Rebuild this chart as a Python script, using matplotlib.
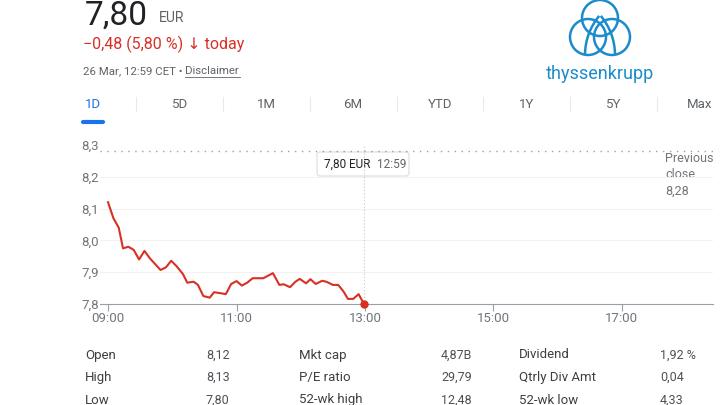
import matplotlib.pyplot as plt
from matplotlib.patches import Circle, Arc, FancyBboxPatch

plt.rcParams['font.family'] = ['Roboto', 'DejaVu Sans']

# intraday quotes, 26 Mar
times = ["09:00", "09:05", "09:10", "09:14", "09:19", "09:24", "09:29", "09:34", "09:39", "09:49",
         "09:54", "09:59", "10:04", "10:10", "10:14", "10:20", "10:24", "10:29", "10:35", "10:39",
         "10:45", "10:50", "10:55", "11:00", "11:05", "11:10", "11:15", "11:25", "11:34", "11:40",
         "11:44", "11:50", "11:55", "11:59", "12:05", "12:09", "12:14", "12:20", "12:24", "12:30",
         "12:35", "12:40", "12:44", "12:49", "12:54", "12:59"]
prices = [8.12, 8.07, 8.04, 7.975, 7.98, 7.97, 7.94, 7.967, 7.944, 7.907,
          7.915, 7.936, 7.919, 7.894, 7.867, 7.870, 7.860, 7.825, 7.820, 7.837,
          7.834, 7.831, 7.863, 7.872, 7.858, 7.867, 7.881, 7.881, 7.897, 7.860,
          7.862, 7.853, 7.870, 7.879, 7.865, 7.878, 7.863, 7.873, 7.870, 7.860,
          7.860, 7.839, 7.816, 7.816, 7.831, 7.80]
prev_close = 8.28
x_ticks = ["09:00", "11:00", "13:00", "15:00", "17:00"]
y_ticks = [7.8, 7.9, 8.0, 8.1, 8.2, 8.3]
tabs = ["1D", "5D", "1M", "6M", "YTD", "1Y", "5Y", "Max"]
stat_labels = [["Open", "High", "Low"], ["Mkt cap", "P/E ratio", "52-wk high"], ["Dividend", "Qtrly Div Amt", "52-wk low"]]
stat_values = [["8,12", "8,13", "7,80"], ["4,87B", "29,79", "12,48"], ["1,92 %", "0,04", "4,33"]]

RED = '#d93025'
GREY = '#5f6368'
DARK = '#202124'
BLUE = '#1a73e8'
LOGO = '#1b8ccb'


def minutes(hhmm):
    h, m = hhmm.split(":")
    return (int(h) - 9) * 60 + int(m)


def comma(v, nd=1):
    return f"{v:.{nd}f}".replace(".", ",")


W, H = 720, 405
fig = plt.figure(figsize=(7.2, 4.05), dpi=100)

# overlay in pixel coordinates for header, tabs, logo and stats
ov = fig.add_axes([0, 0, 1, 1])
ov.set_xlim(0, W)
ov.set_ylim(H, 0)
ov.axis('off')

# chart
ax = fig.add_axes([100 / W, 101 / H, 613 / W, 159 / H])
xs = [minutes(t) for t in times]
ax.set_xlim(-7.5, 565)
ax.set_ylim(7.8, 8.3)
for y in y_ticks[1:-1]:
    ax.axhline(y, color='#f2f2f2', lw=0.8, zorder=0)
ax.axhline(prev_close, color='#9aa0a6', lw=1, ls=(0, (1, 4)), zorder=1)
ax.axvline(xs[-1], color='#c4c7ca', lw=0.8, ls=(0, (1, 2)), zorder=1)
ax.plot(xs, prices, color=RED, lw=1.5, zorder=3)
ax.plot(xs[-1], prices[-1], 'o', color=RED, ms=5, zorder=4, clip_on=False)

for s in ['top', 'right', 'left']:
    ax.spines[s].set_visible(False)
ax.spines['bottom'].set_color('#9aa0a6')
ax.set_xticks([minutes(t) for t in x_ticks])
ax.set_xticklabels(x_ticks)
ax.set_yticks(y_ticks)
ax.set_yticklabels([comma(v) for v in y_ticks])
ax.tick_params(axis='x', length=5, color='#9aa0a6', labelcolor='#70757a', labelsize=9.5, pad=1)
ax.tick_params(axis='y', length=0, labelcolor='#70757a', labelsize=9.5, pad=1)
ax.patch.set_alpha(0)

# tooltip
ov.add_patch(FancyBboxPatch((317, 152), 92, 24, boxstyle="round,pad=0,rounding_size=3",
                            fc='white', ec='#dadce0', lw=0.8, zorder=5))
ov.text(324, 164, comma(prices[-1], 2) + " EUR", fontsize=8.5, color=DARK, va='center', zorder=6)
ov.text(377, 164, times[-1], fontsize=8.5, color=GREY, va='center', zorder=6)
ov.text(665, 175, "Previous\nclose\n" + comma(prev_close, 2), fontsize=9, color='#70757a',
        va='center', linespacing=1.35)

# header
ov.text(85, 24.5, comma(prices[-1], 2), fontsize=24, color=DARK, va='baseline')
ov.text(159, 22, "EUR", fontsize=10, color=GREY, va='baseline')
ov.text(83, 49.5, "\u22120,48 (5,80 %) \u2193 today", fontsize=11.5, color=RED, va='baseline')
ov.text(83, 74, "26 Mar, 12:59 CET \u2022", fontsize=8.2, color=GREY, va='baseline')
ov.text(185, 74, "Disclaimer", fontsize=8.2, color=GREY, va='baseline')
ov.plot([185, 240], [76.5, 76.5], color=GREY, lw=0.6)

# logo
for cx, cy, r in [(600, 18, 18), (588, 37, 18), (612, 37, 18)]:
    ov.add_patch(Circle((cx, cy), r, fill=False, ec=LOGO, lw=1.8))
ov.add_patch(Arc((645.8, 55), 121.6, 121.6, theta1=180, theta2=220, color=LOGO, lw=1.8))
ov.add_patch(Arc((554.2, 55), 121.6, 121.6, theta1=320, theta2=360, color=LOGO, lw=1.8))
ov.text(600, 74, "thyssenkrupp", fontsize=13, color=LOGO, ha='center', va='center')

# range tabs
for i, t in enumerate(tabs):
    x = 93 + i * 86.7
    ov.text(x, 104, t, fontsize=9.5, color=BLUE if i == 0 else GREY, ha='center', va='center')
    if i > 0:
        ov.plot([x - 43.3, x - 43.3], [97, 111], color='#e8eaed', lw=0.8)
ov.plot([83, 103], [122, 122], color=BLUE, lw=3, solid_capstyle='round')

# key stats
label_x = [85, 299, 519]
value_x = [206, 441, 660]
for c in range(3):
    for r in range(3):
        y = 355 + r * 22.5
        ov.text(label_x[c], y, stat_labels[c][r], fontsize=9.5, color='#3c4043', va='center')
        ov.text(value_x[c], y, stat_values[c][r], fontsize=9, color='#4d5156', va='center')

fig.savefig("out.png", dpi=100)
